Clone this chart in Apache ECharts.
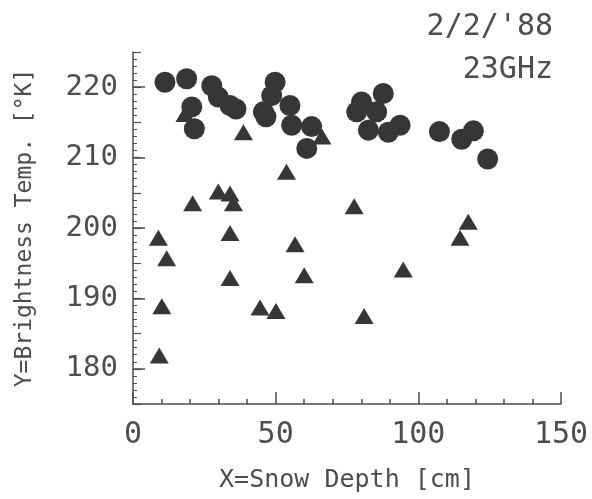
<!DOCTYPE html>
<html>
<head>
<meta charset="utf-8">
<script src="https://cdn.jsdelivr.net/npm/echarts@6/dist/echarts.min.js"></script>
<style>
  html, body { margin: 0; padding: 0; background: #fff; }
  #chart { width: 592px; height: 499px; }
</style>
</head>
<body>
<div id="chart"></div>
<script>
// snow depth [cm], brightness temp [K]
const circleX = [11.2, 18.8, 27.6, 29.9, 34.0, 36.1, 20.6, 21.5, 49.8, 48.6, 45.7, 46.6, 55.0, 55.6, 62.6, 60.9,
                 87.7, 80.1, 78.4, 85.4, 82.5, 89.5, 93.6, 107.4, 115.2, 119.3, 124.3];
const circleY = [220.7, 221.2, 220.2, 218.6, 217.4, 216.9, 217.2, 214.1, 220.7, 218.8, 216.5, 215.8, 217.4, 214.6, 214.4, 211.3,
                 219.1, 217.9, 216.5, 216.5, 213.9, 213.6, 214.6, 213.7, 212.6, 213.8, 209.8];
const triX = [18.2, 38.7, 66.2, 53.8, 29.9, 34.0, 35.2, 20.9, 77.5, 34.0, 8.9, 56.8, 11.8, 34.0, 60.0,
              10.1, 44.5, 50.1, 9.2, 117.5, 114.6, 94.7, 81.0];
const triY = [216.2, 213.6, 213.0, 208.0, 205.2, 204.9, 203.5, 203.5, 203.1, 199.3, 198.6, 197.7, 195.7, 192.9, 193.3,
              188.9, 188.7, 188.2, 181.9, 200.9, 198.6, 194.1, 187.5];
const xLabels = [0, 50, 100, 150];
const yLabels = [180, 190, 200, 210, 220];

const ink = '#4d4d4d';
const font = 'DejaVu Sans Mono';
const markColor = '#363636';

const chart = echarts.init(document.getElementById('chart'), null, { renderer: 'canvas' });

const pairs = (xs, ys) => xs.map((x, i) => [x, ys[i]]);

const option = {
    animation: false,
    backgroundColor: '#fff',
    grid: { left: 133, right: 31, top: 52, bottom: 95, outerBoundsMode: 'none', containLabel: false },
    xAxis: [
        {
            type: 'value', min: 0, max: 150, interval: 10,
            name: 'X=Snow Depth [cm]', nameLocation: 'middle', nameGap: 64,
            nameTextStyle: { color: ink, fontFamily: font, fontSize: 25 },
            axisLine: { lineStyle: { color: ink, width: 1.5 } },
            axisTick: { inside: true, length: 5, lineStyle: { color: ink, width: 1.5 } },
            axisLabel: {
                margin: 16, color: ink, fontFamily: font, fontSize: 30,
                formatter: v => xLabels.includes(v) ? String(v) : ''
            },
            splitLine: { show: false }
        },
        {
            type: 'value', min: 0, max: 150, interval: 50, position: 'bottom', offset: 0,
            axisLine: { show: false },
            axisTick: { inside: true, length: 12, lineStyle: { color: ink, width: 1.5 } },
            axisLabel: { show: false },
            splitLine: { show: false }
        }
    ],
    yAxis: [
        {
            type: 'value', min: 175, max: 225, interval: 5,
            name: 'Y=Brightness Temp. [°K]', nameLocation: 'middle', nameGap: 96,
            nameTextStyle: { color: ink, fontFamily: font, fontSize: 23 },
            axisLine: { show: true, lineStyle: { color: ink, width: 1.5 } },
            axisTick: { show: true, inside: true, length: 8, lineStyle: { color: ink, width: 1.2 } },
            minorTick: { show: true, splitNumber: 5, length: 4, lineStyle: { color: ink, width: 1 } },
            axisLabel: {
                margin: 15, color: ink, fontFamily: font, fontSize: 29,
                formatter: v => yLabels.includes(v) ? String(v) : ''
            },
            splitLine: { show: false }
        },
        {
            type: 'value', min: 175, max: 225, position: 'left', offset: 0,
            axisLine: { show: false },
            axisTick: { show: true, inside: true, length: 12, customValues: yLabels, lineStyle: { color: ink, width: 1.5 } },
            axisLabel: { show: false },
            splitLine: { show: false }
        }
    ],
    graphic: [
        { type: 'text', right: 39, top: 12, style: { text: "2/2/'88", fill: ink, font: '30px "' + font + '"', textAlign: 'right' } },
        { type: 'text', right: 39, top: 55, style: { text: '23GHz', fill: ink, font: '30px "' + font + '"', textAlign: 'right' } }
    ],
    series: [
        {
            type: 'scatter', symbol: 'triangle', symbolSize: [19, 16],
            itemStyle: { color: markColor, opacity: 1 },
            data: pairs(triX, triY)
        },
        {
            type: 'scatter', symbol: 'circle', symbolSize: 21,
            itemStyle: { color: markColor, opacity: 1 },
            data: pairs(circleX, circleY)
        }
    ]
};

chart.setOption(option);
</script>
</body>
</html>
